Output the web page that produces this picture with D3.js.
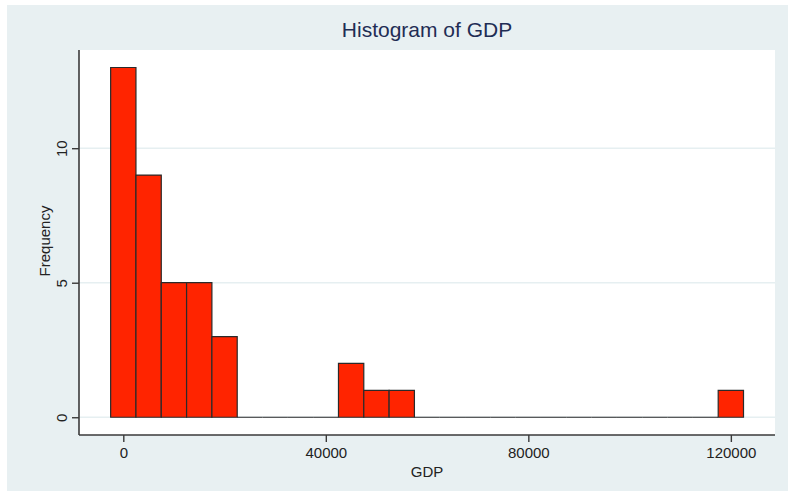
<!DOCTYPE html>
<html>
<head>
<meta charset="utf-8">
<script src="https://cdn.jsdelivr.net/npm/d3@7"></script>
<style>
  html, body { margin: 0; padding: 0; background: #ffffff; }
  svg { display: block; font-family: "Liberation Sans", Arial, Helvetica, sans-serif; }
</style>
</head>
<body>
<svg id="chart" width="788" height="491"></svg>
<script>
// GDP histogram: bin midpoints (width 5000) and their frequencies
const binMids = [0, 5000, 10000, 15000, 20000, 25000, 30000, 35000, 40000, 45000,
                 50000, 55000, 60000, 65000, 70000, 75000, 80000, 85000, 90000, 95000,
                 100000, 105000, 110000, 115000, 120000];
const frequencies = [13, 9, 5, 5, 3, 0, 0, 0, 0, 2,
                     1, 1, 0, 0, 0, 0, 0, 0, 0, 0,
                     0, 0, 0, 0, 1];
const binWidth = 5000;
const xTicks = [0, 40000, 80000, 120000];
const yTicks = [0, 5, 10];

const svg = d3.select("#chart");

// outer graph region
svg.append("rect")
  .attr("x", 7).attr("y", 5).attr("width", 781).attr("height", 486)
  .attr("fill", "#e8f0f2");

// plot region
const plot = { left: 79, right: 775, top: 50, bottom: 435 };
svg.append("rect")
  .attr("x", plot.left).attr("y", plot.top)
  .attr("width", plot.right - plot.left).attr("height", plot.bottom - plot.top)
  .attr("fill", "#ffffff");

const x = d3.scaleLinear().domain([-8750, 128720]).range([plot.left, plot.right]);
const y = d3.scaleLinear().domain([-0.66, 13.65]).range([plot.bottom, plot.top]);

// horizontal grid lines
svg.append("g").selectAll("line")
  .data(yTicks)
  .join("line")
  .attr("x1", plot.left).attr("x2", plot.right)
  .attr("y1", d => y(d)).attr("y2", d => y(d))
  .attr("stroke", "#e6eff1").attr("stroke-width", 1.5);

// histogram bars as closed paths, so empty bins still show their outline on the baseline
svg.append("g").selectAll("path")
  .data(binMids.map((m, i) => ({ mid: m, n: frequencies[i] })))
  .join("path")
  .attr("d", d => {
    const x0 = x(d.mid - binWidth / 2), x1 = x(d.mid + binWidth / 2);
    const y0 = y(0), y1 = y(d.n);
    return `M${x0},${y0}V${y1}H${x1}V${y0}Z`;
  })
  .attr("fill", "#ff2400")
  .attr("stroke", "#2a2a2a")
  .attr("stroke-width", 1.2);

// axes
const xAxis = d3.axisBottom(x).tickValues(xTicks).tickFormat(d3.format("d"))
  .tickSizeInner(7).tickSizeOuter(0).tickPadding(4);
const gx = svg.append("g").attr("transform", `translate(0,${plot.bottom})`).call(xAxis);
gx.select(".domain").attr("d", `M${plot.left},0H${plot.right}`)
  .attr("stroke", "#3a3a3a").attr("stroke-width", 1.6);
gx.selectAll(".tick line").attr("stroke", "#3a3a3a").attr("stroke-width", 1.4);
gx.selectAll(".tick text")
  .attr("font-family", "Liberation Sans, Arial, sans-serif")
  .attr("font-size", 15).attr("fill", "#222")
  .attr("dy", null).attr("y", 23);

const yAxis = d3.axisLeft(y).tickValues(yTicks).tickFormat(d3.format("d"))
  .tickSizeInner(7).tickSizeOuter(0);
const gy = svg.append("g").attr("transform", `translate(${plot.left},0)`).call(yAxis);
gy.select(".domain").attr("d", `M0,${plot.top}V${plot.bottom}`)
  .attr("stroke", "#3a3a3a").attr("stroke-width", 1.6);
gy.selectAll(".tick line").attr("stroke", "#3a3a3a").attr("stroke-width", 1.4);
gy.selectAll(".tick text")
  .attr("font-family", "Liberation Sans, Arial, sans-serif")
  .attr("font-size", 15).attr("fill", "#222")
  .attr("x", null).attr("dy", null)
  .attr("text-anchor", "middle")
  .attr("transform", "translate(-12,0) rotate(-90)");

// axis titles
svg.append("text")
  .attr("x", 427).attr("y", 477)
  .attr("text-anchor", "middle")
  .attr("font-size", 15).attr("fill", "#222")
  .text("GDP");

svg.append("text")
  .attr("transform", "translate(50,241) rotate(-90)")
  .attr("text-anchor", "middle")
  .attr("font-size", 15).attr("fill", "#222")
  .text("Frequency");

// chart title
svg.append("text")
  .attr("x", 427).attr("y", 37)
  .attr("text-anchor", "middle")
  .attr("font-size", 21).attr("fill", "#1f2d55")
  .text("Histogram of GDP");
</script>
</body>
</html>
